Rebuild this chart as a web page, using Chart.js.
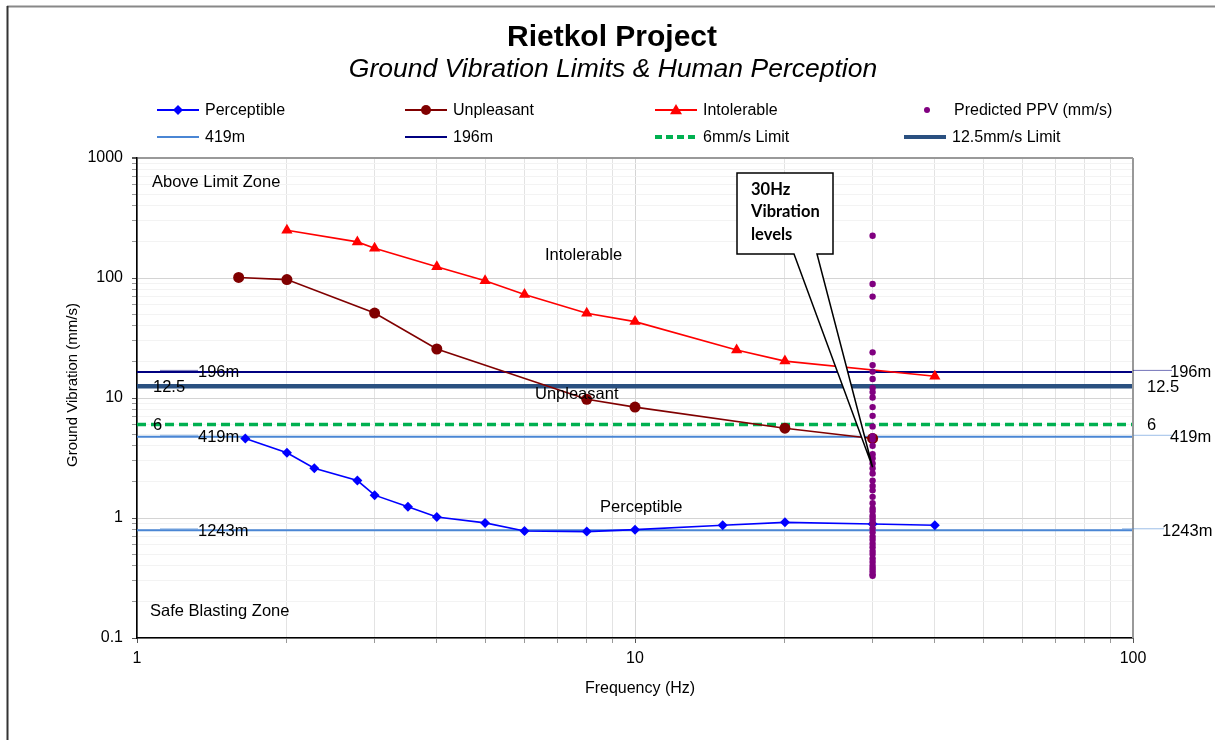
<!DOCTYPE html>
<html>
<head>
<meta charset="utf-8">
<title>Rietkol Project</title>
<script src="https://cdn.jsdelivr.net/npm/chart.js@4.4.0/dist/chart.umd.min.js"></script>
<style>
  body { margin: 0; background: #fff; }
  #wrap { width: 1215px; height: 740px; }
</style>
</head>
<body>
<div id="wrap"><canvas id="vibChart" width="1215" height="740"></canvas></div>
<script>
// human perception curves (Hz -> mm/s)
const perceptibleHz = [1.65, 2, 2.27, 2.77, 3, 3.5, 4, 5, 6, 8, 10, 15, 20, 30, 40];
const perceptibleMm = [4.6, 3.5, 2.6, 2.05, 1.55, 1.24, 1.02, 0.91, 0.78, 0.77, 0.8, 0.87, 0.92, 0.89, 0.87];

const unpleasantHz = [1.6, 2, 3, 4, 8, 10, 20, 30];
const unpleasantMm = [101, 97, 51, 25.6, 9.75, 8.4, 5.6, 4.6];

const intolerableHz = [2, 2.77, 3, 4, 5, 6, 8, 10, 16, 20, 40];
const intolerableMm = [250, 200, 177, 124, 95, 73, 50.8, 43.3, 25.1, 20.3, 15.2];

// predicted PPV at 30 Hz for the blast distances
const ppvHz = 30;
const ppvMm = [225, 89, 70, 24, 18.8, 16.6, 14.4, 12.1, 11.2, 10.1, 8.4, 7.1, 5.8, 4.8, 4.5,
  4.0, 3.4, 3.15, 2.85, 2.6, 2.35, 2.05, 1.85, 1.7, 1.5, 1.33, 1.2, 1.14, 1.05, 1.0, 0.95,
  0.9, 0.82, 0.76, 0.7, 0.66, 0.61, 0.57, 0.53, 0.5, 0.46, 0.43, 0.4, 0.38, 0.36, 0.34, 0.33];

// horizontal reference levels
const lineHz = [1, 100];
const dist419 = 4.75;
const dist196 = 16.5;
const dist1243 = 0.79;
const limit6 = 6;
const limit12 = 12.5;

const xTicks = [1, 2, 3, 4, 5, 6, 7, 8, 9, 10, 20, 30, 40, 50, 60, 70, 80, 90, 100];
const yTicks = [0.1, 0.2, 0.3, 0.4, 0.5, 0.6, 0.7, 0.8, 0.9, 1, 2, 3, 4, 5, 6, 7, 8, 9,
  10, 20, 30, 40, 50, 60, 70, 80, 90, 100, 200, 300, 400, 500, 600, 700, 800, 900, 1000];

const calloutTip = { x: 30, y: 2.65 };

const FONT = '"Liberation Sans", Arial, sans-serif';

function pts(xs, ys) {
  return xs.map((x, i) => ({ x: x, y: ys[i] }));
}
function flat(v) {
  return lineHz.map(x => ({ x: x, y: v }));
}
function isPow10(v) {
  const l = Math.log10(v);
  return Math.abs(l - Math.round(l)) < 1e-9;
}

// draw a legend / marker shape
function marker(ctx, style, x, y, r, color) {
  ctx.save();
  ctx.fillStyle = color;
  ctx.beginPath();
  if (style === 'rectRot') {
    ctx.moveTo(x, y - r); ctx.lineTo(x + r, y); ctx.lineTo(x, y + r); ctx.lineTo(x - r, y);
  } else if (style === 'triangle') {
    ctx.moveTo(x, y - r); ctx.lineTo(x + r, y + r * 0.7); ctx.lineTo(x - r, y + r * 0.7);
  } else {
    ctx.arc(x, y, r, 0, Math.PI * 2);
  }
  ctx.closePath();
  ctx.fill();
  ctx.restore();
}

const legendItems = [
  { text: 'Perceptible', x: 157, y: 110, color: '#0000FF', width: 2, marker: 'rectRot', r: 5 },
  { text: 'Unpleasant', x: 405, y: 110, color: '#800000', width: 2, marker: 'circle', r: 5 },
  { text: 'Intolerable', x: 655, y: 110, color: '#FF0000', width: 2, marker: 'triangle', r: 6 },
  { text: 'Predicted PPV (mm/s)', x: 906, y: 110, color: '#800080', width: 0, marker: 'circle', r: 3 },
  { text: '419m', x: 157, y: 137, color: '#4A86D4', width: 2 },
  { text: '196m', x: 405, y: 137, color: '#000080', width: 2 },
  { text: '6mm/s Limit', x: 655, y: 137, color: '#00B050', width: 4, dash: [7, 4] },
  { text: '12.5mm/s Limit', x: 904, y: 137, color: '#2A5080', width: 4 }
];

const lineLabels = [
  { value: dist196, text: '196m', lx: 198, rx: 1170, color: '#000080', leader: true },
  { value: limit12, text: String(limit12), lx: 153, rx: 1147, color: '#2A5080' },
  { value: limit6, text: String(limit6), lx: 153, rx: 1147, color: '#00B050' },
  { value: dist419, text: '419m', lx: 198, rx: 1170, color: '#4A86D4', leader: true },
  { value: dist1243, text: '1243m', lx: 198, rx: 1162, color: '#4A86D4', leader: true }
];

const zoneLabels = [
  { text: 'Above Limit Zone', x: 152, y: 182 },
  { text: 'Intolerable', x: 545, y: 255 },
  { text: 'Unpleasant', x: 535, y: 394 },
  { text: 'Perceptible', x: 600, y: 507 },
  { text: 'Safe Blasting Zone', x: 150, y: 611 }
];

const decorPlugin = {
  id: 'decor',
  beforeDraw(chart) {
    const ctx = chart.ctx;
    ctx.save();
    ctx.fillStyle = '#fff';
    ctx.fillRect(0, 0, chart.width, chart.height);
    // outer chart frame
    ctx.strokeStyle = '#888';
    ctx.lineWidth = 2;
    ctx.beginPath(); ctx.moveTo(7, 6.5); ctx.lineTo(chart.width, 6.5); ctx.stroke();
    ctx.strokeStyle = '#333';
    ctx.beginPath(); ctx.moveTo(7.5, 6); ctx.lineTo(7.5, chart.height); ctx.stroke();
    ctx.restore();
  },
  afterDatasetsDraw(chart) {
    const ctx = chart.ctx;
    const xs = chart.scales.x, ys = chart.scales.y;
    const area = chart.chartArea;
    ctx.save();

    // right border of plot area
    ctx.strokeStyle = '#999';
    ctx.lineWidth = 2;
    ctx.beginPath(); ctx.moveTo(area.right, area.top); ctx.lineTo(area.right, area.bottom); ctx.stroke();

    // labels on the reference lines
    ctx.font = '16.5px ' + FONT;
    ctx.fillStyle = '#000';
    ctx.textBaseline = 'middle';
    ctx.textAlign = 'left';
    lineLabels.forEach(l => {
      const y = ys.getPixelForValue(l.value);
      if (l.leader) {
        ctx.strokeStyle = l.color;
        ctx.globalAlpha = 0.55;
        ctx.lineWidth = 1;
        ctx.beginPath(); ctx.moveTo(160, y - 1.5); ctx.lineTo(l.lx, y - 1.5); ctx.stroke();
        ctx.beginPath(); ctx.moveTo(area.right - (l.text === '1243m' ? 11 : 0), y - 1.5); ctx.lineTo(l.rx + 2, y - 1.5); ctx.stroke();
        ctx.globalAlpha = 1;
      }
      ctx.fillText(l.text, l.lx, y + 1);
      ctx.fillText(l.text, l.rx, y + 1);
    });

    // zone labels
    zoneLabels.forEach(z => ctx.fillText(z.text, z.x, z.y));

    // callout box
    const tx = xs.getPixelForValue(calloutTip.x);
    const ty = ys.getPixelForValue(calloutTip.y);
    ctx.strokeStyle = '#000';
    ctx.lineWidth = 1.5;
    ctx.fillStyle = '#fff';
    ctx.beginPath();
    ctx.moveTo(737, 173);
    ctx.lineTo(833, 173);
    ctx.lineTo(833, 254);
    ctx.lineTo(817, 254);
    ctx.lineTo(tx, ty);
    ctx.lineTo(794, 254);
    ctx.lineTo(737, 254);
    ctx.closePath();
    ctx.fill();
    ctx.stroke();
    ctx.fillStyle = '#000';
    ctx.font = 'bold 16.5px Lato, "Open Sans", sans-serif';
    ctx.fillText('30Hz', 751, 190);
    ctx.fillText('Vibration', 751, 212);
    ctx.fillText('levels', 751, 235);

    ctx.restore();
  },
  afterDraw(chart) {
    const ctx = chart.ctx;
    const area = chart.chartArea;
    ctx.save();
    ctx.fillStyle = '#000';
    ctx.textAlign = 'center';
    ctx.textBaseline = 'middle';
    ctx.font = 'bold 30px ' + FONT;
    ctx.fillText('Rietkol Project', 612, 38);
    ctx.font = 'italic 26.5px ' + FONT;
    ctx.fillText('Ground Vibration Limits & Human Perception', 613, 70);

    // axis titles
    ctx.font = '16px ' + FONT;
    ctx.fillText('Frequency (Hz)', 640, 689);
    ctx.save();
    ctx.font = '15px ' + FONT;
    ctx.translate(73, 385);
    ctx.rotate(-Math.PI / 2);
    ctx.fillText('Ground Vibration (mm/s)', 0, 0);
    ctx.restore();

    // legend
    ctx.textAlign = 'left';
    ctx.font = '16px ' + FONT;
    legendItems.forEach(it => {
      if (it.width) {
        ctx.save();
        ctx.strokeStyle = it.color;
        ctx.lineWidth = it.width;
        if (it.dash) ctx.setLineDash(it.dash);
        ctx.beginPath(); ctx.moveTo(it.x, it.y); ctx.lineTo(it.x + 42, it.y); ctx.stroke();
        ctx.restore();
      }
      if (it.marker) marker(ctx, it.marker, it.x + 21, it.y, it.r, it.color);
      ctx.fillStyle = '#000';
      ctx.fillText(it.text, it.x + 48, it.y + 1);
    });
    ctx.restore();
  }
};

function gridColor(c, minorCol) {
  if (!c.tick) return minorCol;
  const v = c.tick.value;
  return isPow10(v) ? '#D4D4D4' : minorCol;
}

new Chart(document.getElementById('vibChart'), {
  type: 'line',
  data: {
    datasets: [
      {
        label: 'Predicted PPV (mm/s)', data: ppvMm.map(v => ({ x: ppvHz, y: v })), showLine: false,
        pointRadius: 3.2, pointBackgroundColor: '#800080', pointBorderWidth: 0, borderColor: '#800080'
      },
      {
        label: 'Perceptible', data: pts(perceptibleHz, perceptibleMm), borderColor: '#0000FF',
        backgroundColor: '#0000FF', borderWidth: 1.6, pointStyle: 'rectRot', pointRadius: 5, pointBorderWidth: 0
      },
      {
        label: 'Unpleasant', data: pts(unpleasantHz, unpleasantMm), borderColor: '#800000',
        backgroundColor: '#800000', borderWidth: 1.6, pointStyle: 'circle', pointRadius: 5.5, pointBorderWidth: 0
      },
      {
        label: 'Intolerable', data: pts(intolerableHz, intolerableMm), borderColor: '#FF0000',
        backgroundColor: '#FF0000', borderWidth: 1.6, pointStyle: 'triangle', pointRadius: 6.5, pointBorderWidth: 0
      },
      { label: '419m', data: flat(dist419), borderColor: '#4A86D4', borderWidth: 2, pointRadius: 0 },
      { label: '1243m', data: flat(dist1243), borderColor: '#4A86D4', borderWidth: 2, pointRadius: 0 },
      { label: '196m', data: flat(dist196), borderColor: '#000080', borderWidth: 2, pointRadius: 0 },
      { label: '6mm/s Limit', data: flat(limit6), borderColor: '#00B050', borderWidth: 3.5, borderDash: [9, 5], pointRadius: 0 },
      { label: '12.5mm/s Limit', data: flat(limit12), borderColor: '#2A5080', borderWidth: 4.5, pointRadius: 0 }
    ]
  },
  options: {
    responsive: false,
    animation: false,
    layout: { padding: { top: 158, right: 82, left: 0, bottom: 0 } },
    plugins: { legend: { display: false }, title: { display: false }, tooltip: { enabled: false } },
    elements: { line: { tension: 0 } },
    scales: {
      x: {
        type: 'logarithmic', min: 1, max: 100,
        afterBuildTicks(s) { s.ticks = xTicks.map(v => ({ value: v, major: isPow10(v) })); },
        afterFit(s) { s.height = 102; },
        ticks: {
          autoSkip: false, maxRotation: 0, padding: 6, color: '#000',
          font: { family: FONT, size: 16 },
          callback: v => isPow10(v) ? String(v) : ''
        },
        grid: {
          color: c => gridColor(c, '#E3E3E3'), tickLength: 5,
          tickColor: c => (c.tick && isPow10(c.tick.value)) ? '#555' : '#999'
        },
        border: { display: true, color: '#000', width: 1.6 }
      },
      y: {
        type: 'logarithmic', min: 0.1, max: 1000,
        afterBuildTicks(s) { s.ticks = yTicks.map(v => ({ value: v, major: isPow10(v) })); },
        afterFit(s) { s.width = 137; },
        ticks: {
          autoSkip: false, padding: 9, color: '#000',
          font: { family: FONT, size: 16 },
          callback: v => isPow10(v) ? String(v) : ''
        },
        grid: {
          color: c => (c.tick && c.tick.value === 1000) ? '#999' : gridColor(c, '#F3F3F3'),
          lineWidth: c => (c.tick && c.tick.value === 1000) ? 2 : 1,
          tickLength: 5,
          tickColor: c => (c.tick && isPow10(c.tick.value)) ? '#555' : '#999'
        },
        border: { display: true, color: '#000', width: 1.6 }
      }
    }
  },
  plugins: [decorPlugin]
});
</script>
</body>
</html>
